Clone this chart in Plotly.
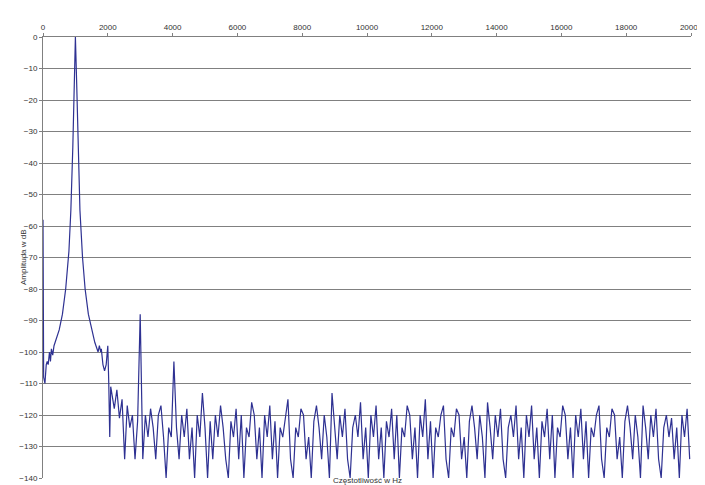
import plotly.graph_objects as go

low_freq = [0, 20, 60, 100, 130, 160, 200, 230, 260, 300, 340, 400, 500, 600, 700, 800, 860, 920, 960, 1000,
            1040, 1080, 1140, 1220, 1300, 1400, 1500, 1600, 1700, 1740, 1780, 1800, 1850, 1900, 1950, 2000, 2030, 2060, 2090]
low_amp = [-58, -108, -110, -104, -103, -104, -100, -103, -99, -101, -98, -96, -93, -88, -80, -68, -55, -35, -15, 0,
           -15, -35, -55, -70, -80, -88, -93, -97, -100, -98, -100, -99, -104, -106, -104, -98, -110, -127, -111]

noise_start = 2120
noise_step = 80
noise_amp = [
    -113, -118, -112, -121, -115, -134, -117, -124, -120, -134, -122, -88, -134, -120, -127, -118, -124, -134, -120, -117,
    -127, -140, -124, -127, -103, -124, -134, -120, -127, -118, -134, -124, -140, -120, -127, -113, -124, -140, -122, -134,
    -120, -127, -117, -124, -134, -140, -122, -127, -118, -134, -120, -140, -124, -127, -116, -120, -134, -124, -140, -120,
    -127, -117, -134, -122, -140, -124, -127, -120, -115, -134, -140, -124, -127, -118, -120, -134, -127, -140, -122, -117,
    -124, -134, -120, -127, -140, -113, -124, -134, -120, -127, -118, -134, -140, -124, -120, -127, -116, -134, -124, -140,
    -120, -127, -117, -134, -124, -140, -122, -127, -118, -134, -120, -140, -124, -127, -117, -120, -134, -124, -140, -120,
    -127, -115, -134, -122, -140, -124, -127, -120, -117, -134, -140, -124, -127, -118, -120, -134, -127, -140, -122, -117,
    -124, -134, -120, -127, -140, -116, -124, -134, -120, -127, -118, -134, -140, -124, -120, -127, -117, -134, -124, -140,
    -120, -127, -117, -134, -124, -140, -122, -127, -118, -134, -120, -140, -124, -127, -117, -120, -134, -124, -140, -120,
    -127, -118, -134, -122, -140, -124, -127, -120, -117, -134, -140, -124, -127, -118, -120, -134, -127, -140, -122, -117,
    -124, -134, -120, -127, -140, -117, -124, -134, -120, -127, -118, -134, -140, -124, -120, -127, -121, -134, -124, -140,
    -120, -127, -118, -134,
]
noise_freq = [noise_start + noise_step * i for i in range(len(noise_amp))]

freq = low_freq + noise_freq
amp = low_amp + noise_amp

x_ticks = list(range(0, 20001, 2000))
x_labels = [str(v) for v in x_ticks]
y_ticks = list(range(0, -141, -10))

fig = go.Figure(go.Scatter(x=freq, y=amp, mode="lines", line=dict(color="#2e3192", width=1.2)))
fig.update_layout(
    width=705, height=485, margin=dict(l=35, r=22, t=29, b=15),
    paper_bgcolor="white", plot_bgcolor="white", showlegend=False,
    font=dict(family="Liberation Sans, Arial", size=8, color="#333"),
    xaxis=dict(side="top", range=[0, 20000], tickvals=x_ticks, ticktext=x_labels, showgrid=False,
               zeroline=False, automargin=False,
               showline=True, linecolor="#808080", ticks="outside", ticklen=3, tickcolor="#808080"),
    yaxis=dict(range=[-140, 0], tickvals=y_ticks, showgrid=True, gridcolor="#808080", gridwidth=1,
               zeroline=False, showline=True, linecolor="#808080", ticks="outside", ticklen=3,
               tickcolor="#808080", automargin=False),
    annotations=[
        dict(text="Częstotliwość w Hz", x=0.5, y=0, xref="paper", yref="paper",
             yshift=-9, showarrow=False, font=dict(size=8)),
        dict(text="Amplituda w dB", x=0, y=0.5, xref="paper", yref="paper", xshift=-26,
             textangle=-90, showarrow=False, font=dict(size=8)),
    ],
)
fig.write_html("out.html")
